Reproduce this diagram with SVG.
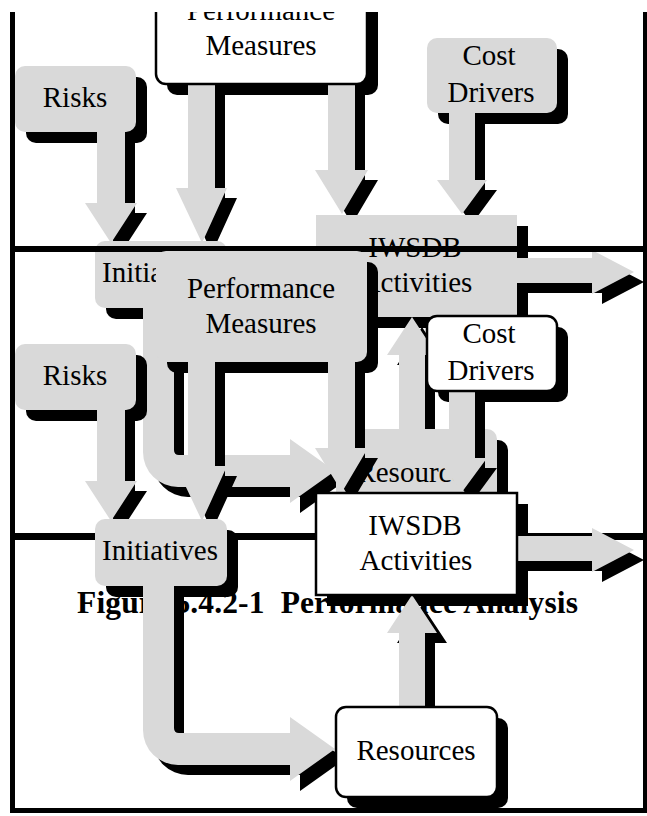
<svg xmlns="http://www.w3.org/2000/svg" xmlns:xlink="http://www.w3.org/1999/xlink" width="647" height="816" viewBox="0 0 647 816">
<style>
.g{fill:#d9d9d9}
.w{fill:#ffffff;stroke:#000;stroke-width:2.5}
.sh{fill:#000}
.t{font-family:"Liberation Serif","Times New Roman",serif;font-size:29px;fill:#000;text-anchor:middle}
.cap{font-family:"Liberation Serif","Times New Roman",serif;font-size:31.5px;font-weight:bold;fill:#000;white-space:pre}
.fr{stroke:#000;fill:none}
</style>
<defs>
<clipPath id="page"><rect x="0" y="12" width="647" height="804"/></clipPath>
<path id="arRisk" d="M97,408 H125 V481 H137 L111,521 L85,481 H97 Z"/>
<path id="arPerf1" d="M188,360 H215 V466 H227 L202,521 L176,466 H188 Z"/>
<path id="arPerf2" d="M328,360 H355 V448 H368 L342,492 L315,448 H328 Z"/>
<path id="arCost" d="M449,389 H475 V458 H487 L462,492 L437,458 H449 Z"/>
<path id="arOut" d="M515,536 H592 V528 L634,550 L592,572 V561 H515 Z"/>
<path id="arUp" d="M399,709 V633 H387 L412,595 L437,633 H425 V709 Z"/>
<path id="arLoop" d="M143,584 H174 V728 Q174,733 179,733 H290 V717 L335,749 L290,781 V765 H178 A35,35 0 0 1 143,730 Z"/>
</defs>

<g clip-path="url(#page)">
<!-- ===== Copy A (upper, shifted up) ===== -->
<g id="copyA" transform="translate(0,-278)">
  <g id="a-box-shadows" class="sh">
    <rect x="167" y="262" width="211" height="111" rx="10"/>
    <rect x="26" y="355" width="121" height="66" rx="10"/>
    <rect x="438" y="327" width="130" height="75" rx="10"/>
    <rect x="327" y="504" width="201" height="102"/>
    <rect x="106" y="530" width="132" height="67" rx="10"/>
    <rect x="347" y="718" width="161" height="90" rx="10"/>
  </g>
  <g id="a-connectors">
    <g class="sh" transform="translate(10,10)">
      <use xlink:href="#arRisk"/><use xlink:href="#arPerf1"/><use xlink:href="#arPerf2"/><use xlink:href="#arCost"/><use xlink:href="#arOut"/><use xlink:href="#arUp"/><use xlink:href="#arLoop"/>
    </g>
    <g class="g">
      <use xlink:href="#arRisk"/><use xlink:href="#arPerf1"/><use xlink:href="#arPerf2"/><use xlink:href="#arCost"/><use xlink:href="#arOut"/><use xlink:href="#arUp"/><use xlink:href="#arLoop"/>
    </g>
  </g>
  <g id="a-perf"><rect class="w" x="156" y="251" width="211" height="111" rx="10"/><text class="t" x="261" y="298">Performance</text><text class="t" x="261" y="333">Measures</text></g>
  <g id="a-risks"><rect class="g" x="15" y="344" width="121" height="66" rx="10"/><text class="t" x="75" y="385">Risks</text></g>
  <g id="a-cost"><rect class="g" x="427" y="316" width="130" height="75" rx="10"/><text class="t" x="489" y="343">Cost</text><text class="t" x="491" y="380">Drivers</text></g>
  <g id="a-iwsdb"><rect class="g" x="316" y="493" width="201" height="102"/><text class="t" x="415" y="535">IWSDB</text><text class="t" x="416" y="570">Activities</text></g>
  <g id="a-init"><rect class="g" x="95" y="519" width="132" height="67" rx="10"/><text class="t" x="160" y="560">Initiatives</text></g>
  <g id="a-res"><rect class="g" x="336" y="707" width="161" height="90" rx="10"/><text class="t" x="416" y="760">Resources</text></g>
</g>

<!-- ===== Frame lines ===== -->
<g id="frame" class="fr">
  <line x1="12.5" y1="12" x2="12.5" y2="813" stroke-width="5"/>
  <line x1="645" y1="12" x2="645" y2="813" stroke-width="4"/>
  <line x1="10" y1="249" x2="647" y2="249" stroke-width="6"/>
  <line x1="10" y1="536.5" x2="647" y2="536.5" stroke-width="7"/>
  <line x1="10" y1="810.5" x2="647" y2="810.5" stroke-width="5"/>
</g>

<!-- ===== Caption ===== -->
<text id="caption" class="cap" x="77" y="613" textLength="501" lengthAdjust="spacing">Figure 5.4.2-1  Performance Analysis</text>

<!-- ===== Copy B (lower) ===== -->
<g id="copyB">
  <g id="b-box-shadows" class="sh">
    <rect x="167" y="262" width="211" height="111" rx="10"/>
    <rect x="26" y="355" width="121" height="66" rx="10"/>
    <rect x="438" y="327" width="130" height="75" rx="10"/>
    <rect x="327" y="504" width="201" height="102"/>
    <rect x="106" y="530" width="132" height="67" rx="10"/>
    <rect x="347" y="718" width="161" height="90" rx="10"/>
  </g>
  <g id="b-connectors">
    <g class="sh" transform="translate(10,10)">
      <use xlink:href="#arRisk"/><use xlink:href="#arPerf1"/><use xlink:href="#arPerf2"/><use xlink:href="#arCost"/><use xlink:href="#arOut"/><use xlink:href="#arUp"/><use xlink:href="#arLoop"/>
    </g>
    <g class="g">
      <use xlink:href="#arRisk"/><use xlink:href="#arPerf1"/><use xlink:href="#arPerf2"/><use xlink:href="#arCost"/><use xlink:href="#arOut"/><use xlink:href="#arUp"/><use xlink:href="#arLoop"/>
    </g>
  </g>
  <g id="b-perf"><rect class="g" x="156" y="251" width="211" height="111" rx="10"/><text class="t" x="261" y="298">Performance</text><text class="t" x="261" y="333">Measures</text></g>
  <g id="b-risks"><rect class="g" x="15" y="344" width="121" height="66" rx="10"/><text class="t" x="75" y="385">Risks</text></g>
  <g id="b-cost"><rect class="w" x="427" y="316" width="130" height="75" rx="10"/><text class="t" x="489" y="343">Cost</text><text class="t" x="491" y="380">Drivers</text></g>
  <g id="b-iwsdb"><rect class="w" x="316" y="493" width="201" height="102"/><text class="t" x="415" y="535">IWSDB</text><text class="t" x="416" y="570">Activities</text></g>
  <g id="b-init"><rect class="g" x="95" y="519" width="132" height="67" rx="10"/><text class="t" x="160" y="560">Initiatives</text></g>
  <g id="b-res"><rect class="w" x="336" y="707" width="161" height="90" rx="10"/><text class="t" x="416" y="760">Resources</text></g>
</g>
</g>
</svg>
